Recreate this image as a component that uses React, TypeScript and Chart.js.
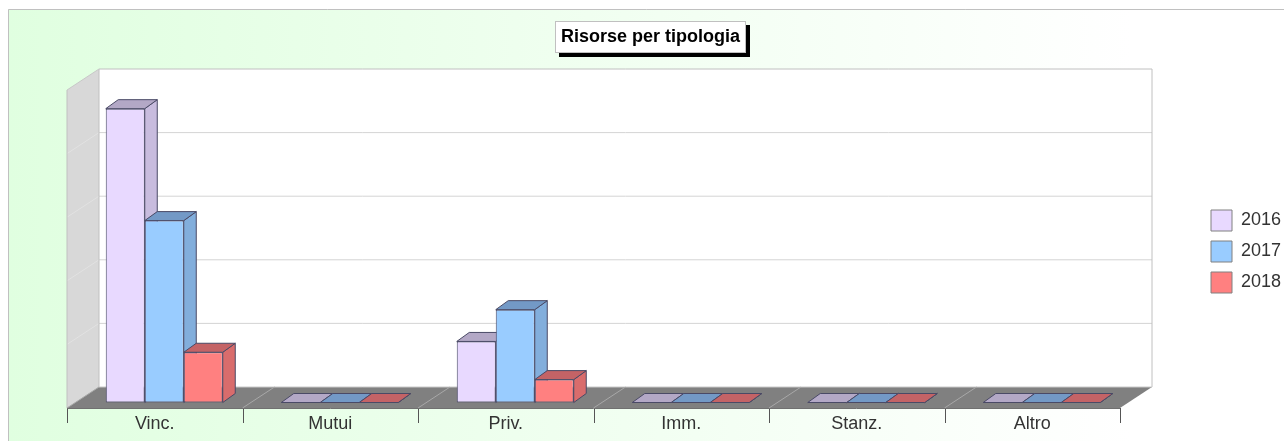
import React, { useEffect, useRef } from "react";
import { Chart, registerables } from "chart.js";

Chart.register(...registerables);

const categories = ["Vinc.", "Mutui", "Priv.", "Imm.", "Stanz.", "Altro"];
const years = ["2016", "2017", "2018"];
const values2016 = [46.2, 0, 9.6, 0, 0, 0];
const values2017 = [28.6, 0, 14.6, 0, 0, 0];
const values2018 = [7.9, 0, 3.6, 0, 0, 0];
const frontColors = ["#e8d9ff", "#99ccff", "#ff8080"];
const topColors = ["#b3a8c6", "#7399c6", "#c46366"];
const sideColors = ["#c8bcde", "#82aedc", "#d96c6c"];
const borderColor = "#4a4a66";

// Offsets from the bars' plane: to the front edge of the floor, to the back wall, bar depth
const FRONT = { x: -9.5, y: 5.5 };
const BACK = { x: 22.5, y: -15.5 };
const DEPTH = { x: 12.5, y: 9 };

function poly(ctx: CanvasRenderingContext2D, pts: number[][], fill?: string, stroke?: string) {
  ctx.beginPath();
  pts.forEach((p, i) => (i ? ctx.lineTo(p[0], p[1]) : ctx.moveTo(p[0], p[1])));
  ctx.closePath();
  if (fill) { ctx.fillStyle = fill; ctx.fill(); }
  if (stroke) { ctx.strokeStyle = stroke; ctx.lineWidth = 1; ctx.stroke(); }
}

function line(ctx: CanvasRenderingContext2D, x1: number, y1: number, x2: number, y2: number, color: string) {
  ctx.beginPath();
  ctx.moveTo(x1, y1);
  ctx.lineTo(x2, y2);
  ctx.strokeStyle = color;
  ctx.lineWidth = 1;
  ctx.stroke();
}

const scene3d = {
  id: "scene3d",
  afterLayout(chart: any) {
    const t = chart.titleBlock;
    t.left = 555; t.right = 746; t.width = 191;
    const l = chart.legend;
    l.left = 1201; l.top = 200; l.right = 1284; l.bottom = 441; l.width = 83; l.height = 241;
  },
  beforeDraw(chart: any) {
    const ctx: CanvasRenderingContext2D = chart.ctx;
    const W = chart.width, H = chart.height;
    ctx.save();
    ctx.fillStyle = "#ffffff";
    ctx.fillRect(0, 0, W, H);
    const g = ctx.createLinearGradient(8, 0, 1130, 0);
    g.addColorStop(0, "#e0ffe0");
    g.addColorStop(1, "#ffffff");
    ctx.fillStyle = g;
    ctx.fillRect(8, 9, W - 8, H - 9);
    line(ctx, 8.5, 9.5, W, 9.5, "#c0c0c0");
    line(ctx, 8.5, 9.5, 8.5, H, "#c0c0c0");
    // title box with its hard shadow
    ctx.fillStyle = "#000000";
    ctx.fillRect(559, 25, 191, 32);
    ctx.fillStyle = "#ffffff";
    ctx.fillRect(555, 21, 191, 32);
    ctx.strokeStyle = "#c0c0c0";
    ctx.lineWidth = 1;
    ctx.strokeRect(555.5, 21.5, 190, 31);
    ctx.restore();
  },
  beforeDatasetsDraw(chart: any) {
    const ctx: CanvasRenderingContext2D = chart.ctx;
    const { x: xs, y: ys } = chart.scales;
    const top0 = ys.top, bot0 = ys.bottom, l0 = xs.left, r0 = xs.right;
    ctx.save();
    // back wall
    poly(ctx, [[l0 + BACK.x, top0 + BACK.y], [r0 + BACK.x, top0 + BACK.y], [r0 + BACK.x, bot0 + BACK.y], [l0 + BACK.x, bot0 + BACK.y]], "#ffffff");
    // left wall
    poly(ctx, [[l0 + FRONT.x, top0 + FRONT.y], [l0 + BACK.x, top0 + BACK.y], [l0 + BACK.x, bot0 + BACK.y], [l0 + FRONT.x, bot0 + FRONT.y]], "#d8d8d8");
    // grid
    ys.ticks.forEach((t: any) => {
      const y = ys.getPixelForValue(t.value);
      if (t.value > 0 && t.value < ys.max) {
        line(ctx, l0 + BACK.x, y + BACK.y, r0 + BACK.x, y + BACK.y, "#d4d4d4");
        line(ctx, l0 + FRONT.x, y + FRONT.y, l0 + BACK.x, y + BACK.y, "#e2e2e2");
      }
    });
    // wall outline
    line(ctx, l0 + BACK.x, top0 + BACK.y, r0 + BACK.x, top0 + BACK.y, "#c0c0c0");
    line(ctx, r0 + BACK.x, top0 + BACK.y, r0 + BACK.x, bot0 + BACK.y, "#c0c0c0");
    line(ctx, l0 + BACK.x, top0 + BACK.y, l0 + BACK.x, bot0 + BACK.y, "#c0c0c0");
    line(ctx, l0 + FRONT.x, top0 + FRONT.y, l0 + FRONT.x, bot0 + FRONT.y, "#c0c0c0");
    line(ctx, l0 + FRONT.x, top0 + FRONT.y, l0 + BACK.x, top0 + BACK.y, "#c8c8c8");
    // floor
    poly(ctx, [[l0 + FRONT.x, bot0 + FRONT.y], [r0 + FRONT.x, bot0 + FRONT.y], [r0 + BACK.x, bot0 + BACK.y], [l0 + BACK.x, bot0 + BACK.y]], "#808080");
    line(ctx, l0 + BACK.x, bot0 + BACK.y, r0 + BACK.x, bot0 + BACK.y, "#c8c8c8");
    // floor divisions and axis tick marks
    const step = (r0 - l0) / categories.length;
    for (let i = 0; i <= categories.length; i++) {
      const x = l0 + i * step;
      if (i < categories.length) line(ctx, x + FRONT.x, bot0 + FRONT.y, x + BACK.x, bot0 + BACK.y, "#a8a8a8");
      line(ctx, Math.round(x + FRONT.x) + 0.5, bot0 + FRONT.y, Math.round(x + FRONT.x) + 0.5, bot0 + FRONT.y + 15, "#555555");
    }
    line(ctx, l0 + FRONT.x, bot0 + FRONT.y + 0.5, r0 + FRONT.x, bot0 + FRONT.y + 0.5, "#707070");
    // top and side faces of the bars, behind their front faces
    chart.data.datasets.forEach((_: any, d: number) => {
      chart.getDatasetMeta(d).data.forEach((el: any) => {
        const { x, y, base, width } = el.getProps(["x", "y", "base", "width"], true);
        const a = x - width / 2, b = x + width / 2;
        poly(ctx, [[b, y], [b + DEPTH.x, y - DEPTH.y], [b + DEPTH.x, base - DEPTH.y], [b, base]], sideColors[d], borderColor);
        poly(ctx, [[a, y], [b, y], [b + DEPTH.x, y - DEPTH.y], [a + DEPTH.x, y - DEPTH.y]], topColors[d], borderColor);
      });
    });
    ctx.restore();
  },
};

export default function App() {
  const ref = useRef<HTMLCanvasElement>(null);
  useEffect(() => {
    const series = [values2016, values2017, values2018];
    const chart = new Chart(ref.current as HTMLCanvasElement, {
      type: "bar",
      data: {
        labels: categories,
        datasets: years.map((label, i) => ({
          label,
          data: series[i],
          backgroundColor: frontColors[i],
          borderColor,
          borderWidth: 1,
          borderSkipped: false,
          categoryPercentage: 2 / 3,
          barPercentage: 1,
          clip: false,
        })),
      },
      options: {
        animation: false,
        responsive: false,
        devicePixelRatio: 1,
        layout: { padding: { left: 76.5, right: 64.5, top: 0, bottom: 0 } },
        plugins: {
          tooltip: { enabled: false },
          title: {
            display: true,
            text: "Risorse per tipologia",
            color: "#000000",
            font: { family: "'Liberation Sans'", size: 18, weight: "bold" },
            padding: { top: 26.2, bottom: 36.7 },
          },
          legend: {
            position: "right",
            align: "start",
            maxWidth: 90,
            labels: {
              boxWidth: 21,
              boxHeight: 21,
              padding: 10,
              color: "#333333",
              font: { family: "'Liberation Sans'", size: 18 },
              generateLabels: (c: any) =>
                Chart.defaults.plugins.legend.labels.generateLabels(c).map((l: any) => ({ ...l, strokeStyle: "#808080" })),
            },
          },
        },
        scales: {
          x: {
            grid: { display: false, drawTicks: false },
            border: { display: false },
            afterFit: (s: any) => { s.height = 38.5; },
            ticks: {
              color: "#333333",
              font: { family: "'Liberation Sans'", size: 18 },
              padding: 11,
              labelOffset: FRONT.x,
              maxRotation: 0,
              autoSkip: false,
            },
          },
          y: { display: false, min: 0, max: 50, ticks: { stepSize: 10 } },
        },
      },
      plugins: [scene3d],
    } as any);
    return () => chart.destroy();
  }, []);
  return <canvas ref={ref} width={1284} height={441} style={{ position: "fixed", left: 0, top: 0, display: "block" }} />;
}
